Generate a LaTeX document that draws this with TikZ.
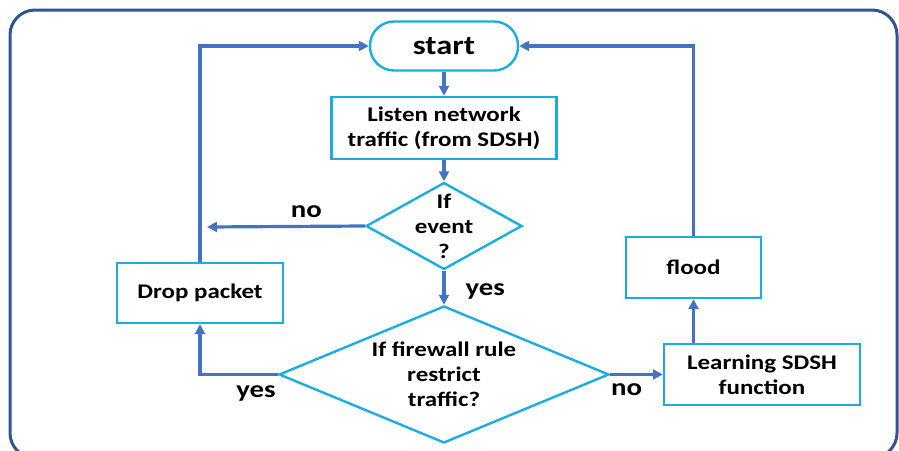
\documentclass[tikz,border=0pt]{standalone}
\usepackage{fontspec}
\setmainfont{Carlito}[FakeStretch=1.2]
\usetikzlibrary{shapes.geometric,arrows.meta}
\definecolor{boxc}{HTML}{1AADE4}
\definecolor{arrc}{HTML}{4472C4}
\definecolor{framec}{HTML}{2F5597}
\begin{document}
\begin{tikzpicture}[x=1pt,y=-1pt,
  txt/.style={align=center, font=\fontsize{20.8}{25}\selectfont\bfseries},
  box/.style={txt, draw=boxc, line width=2.4pt, fill=white, inner sep=0pt},
  dia/.style={diamond, draw=boxc, line width=2.4pt, inner sep=0pt},
  arr/.style={draw=arrc, line width=3.2pt, -{Triangle[length=10pt,width=10pt]}},
  lab/.style={font=\fontsize{24}{26}\selectfont\bfseries, inner sep=1pt}]
\useasboundingbox (0,0) rectangle (899,450);
\clip (0,0) rectangle (899,450);
\draw[framec, line width=3pt, rounded corners=25pt] (10,10) rectangle (897,458);

\node[box, rounded corners=24pt, minimum width=148pt, minimum height=49pt,
      font=\fontsize{27}{30}\selectfont\bfseries] (start) at (444,46) {start};
\node[box, minimum width=225pt, minimum height=62pt] (listen) at (444,128) {Listen network\\traffic (from SDSH)};
\node[dia, minimum width=156pt, minimum height=87pt,
      label={[txt]center:If\\event\\?}] (event) at (444,226) {};
\node[dia, minimum width=330pt, minimum height=137pt,
      label={[txt]center:If firewall rule\\restrict\\traffic?}] (fw) at (444,374.5) {};
\node[box, minimum width=166pt, minimum height=60pt] (drop) at (200,293) {Drop packet};
\node[box, minimum width=135pt, minimum height=61pt] (flood) at (693.5,267.5) {flood};
\node[box, minimum width=196pt, minimum height=61pt] (learn) at (762,374.5) {Learning SDSH\\function};
\coordinate (noend) at (207,227);

\draw[arr] (start) -- (listen);
\draw[arr] (listen) -- (event);
\draw[arr] (event) -- node[lab, anchor=west, xshift=19pt, yshift=-4pt] {yes} (fw);
\draw[arr] (event.west) -- node[lab, pos=0.37, above=6pt] {no} (noend);
\draw[arr] (drop.north) |- (start.west);
\draw[arr] (fw.west) -| node[lab, pos=0.14, below=9pt] {yes} (drop.south);
\draw[arr] (fw.east) -- node[lab, pos=0.31, below=7pt] {no} (learn.west);
\draw[arr] (flood.south |- learn.north) -- (flood.south);
\draw[arr] (flood.north) |- (start.east);
\end{tikzpicture}
\end{document}
